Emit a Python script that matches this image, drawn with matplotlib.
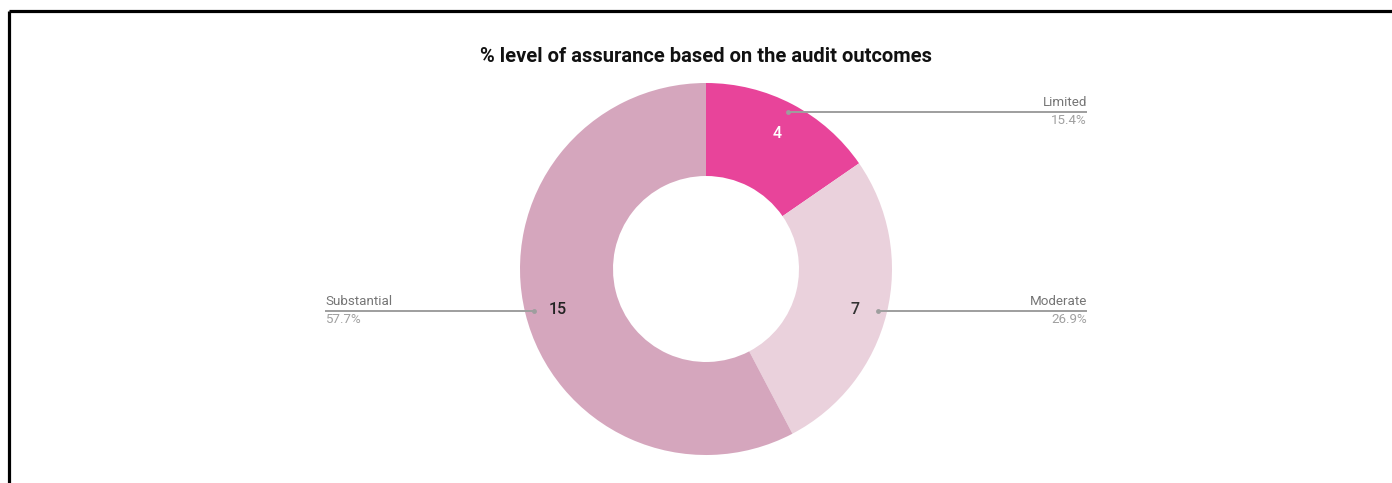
import matplotlib.pyplot as plt
import numpy as np

plt.rcParams['font.family'] = ['Roboto', 'DejaVu Sans']

title = "% level of assurance based on the audit outcomes"
categories = ["Limited", "Moderate", "Substantial"]
counts = [4, 7, 15]
colors = ["#e8449a", "#ead1dc", "#d5a6bd"]
value_colors = ["white", "#333333", "#222222"]

W, H = 1392, 483
fig = plt.figure(figsize=(W / 100, H / 100), dpi=100)
ax = fig.add_axes([0, 0, 1, 1])
ax.set_xlim(0, W)
ax.set_ylim(0, H)
ax.set_aspect("equal")
ax.axis("off")

# donut geometry in pixel units (y measured up from the bottom)
cx, cy = 706, H - 269
R = 186

wedges, _ = ax.pie(counts, colors=colors, startangle=90, counterclock=False,
                   radius=R, center=(cx, cy),
                   wedgeprops=dict(width=R * 0.5, linewidth=0))
ax.set_xlim(0, W)
ax.set_ylim(0, H)

total = sum(counts)
for w, name, n, vc in zip(wedges, categories, counts, value_colors):
    mid = np.deg2rad((w.theta1 + w.theta2) / 2)
    # value inside the ring
    vx = cx + 153 * np.cos(mid)
    vy = cy + 153 * np.sin(mid) + (-4 if np.sin(mid) < 0 else 0)
    ax.text(vx, vy, str(n), color=vc, fontsize=11.5, fontweight="medium",
            ha="center", va="center")
    # leader line out to the side
    dx = cx + 177 * np.cos(mid)
    dy = cy + 177 * np.sin(mid)
    right = np.cos(mid) > 0
    end = 1087 if right else 325
    ax.plot([dx, end], [dy, dy], color="#9e9e9e", lw=1.4, solid_capstyle="butt")
    ax.plot(dx, dy, "o", color="#9e9e9e", ms=3.5, mec="none")
    ha = "right" if right else "left"
    ax.text(end, dy + 3, name, color="#757575", fontsize=9.6, ha=ha, va="bottom")
    ax.text(end, dy - 2, f"{n / total * 100:.1f}%", color="#a0a0a0",
            fontsize=9.6, ha=ha, va="top")

ax.text(706, H - 57, title, fontsize=14.5, fontweight="bold", color="#111111",
        ha="center", va="center")

# frame lines on the top and left edges
ax.plot([8.5, W], [H - 10.5, H - 10.5], color="black", lw=2.3, solid_capstyle="butt")
ax.plot([8.5, 8.5], [0, H - 10.5], color="black", lw=2.3, solid_capstyle="butt")

fig.savefig("out.png", dpi=100, facecolor="white")
